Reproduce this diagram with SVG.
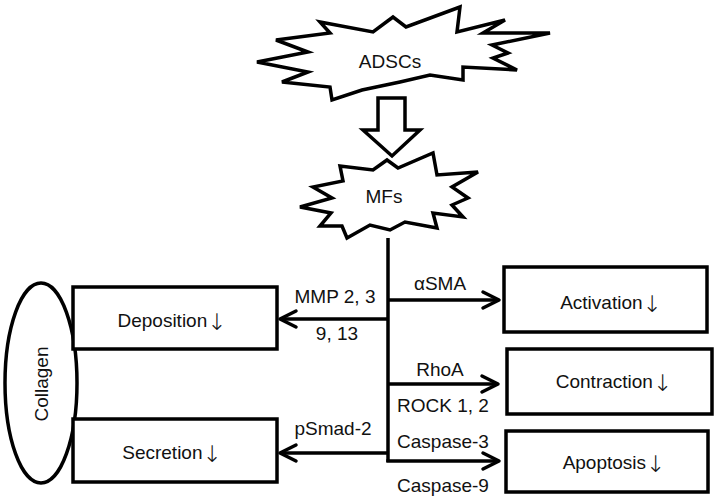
<svg xmlns="http://www.w3.org/2000/svg" width="718" height="502" viewBox="0 0 718 502">
<style>
.shape{fill:#fff;stroke:#000;stroke-width:3.5;stroke-linejoin:miter}
.box{fill:#fff;stroke:#000;stroke-width:3.5}
.t{font-family:"Liberation Sans",Arial,sans-serif;font-size:19px;fill:#111;text-anchor:middle}
.dn{font-family:"DejaVu Sans",sans-serif;font-size:23px;font-weight:200;fill:#111}
.line{fill:none;stroke:#000;stroke-width:3.5}
</style>
<defs>
<marker id="ah" markerUnits="userSpaceOnUse" markerWidth="22" markerHeight="22" viewBox="0 0 22 22" refX="19" refY="11" orient="auto">
<path d="M3,3 L19,11 L3,19" fill="none" stroke="#000" stroke-width="3.5" stroke-linejoin="round" stroke-linecap="round"/>
</marker>
</defs>
<rect width="718" height="502" fill="#fff"/>

<g id="adscs">
<polygon class="shape" points="257,62 308,52 276,40 330,33 320,22 373,32 393,17 406,27 460,7 457,32 505,20 483,33 550,33 492,45 508,53 493,58 517,70 463,67 463,80 430,75 400,82 362,90 332,100 330,87 282,82 308,72"/>
<text class="t" x="390" y="68">ADSCs</text>
</g>

<g id="block-arrow">
<polygon class="shape" points="378,98 405,98 405,130 420,130 392,156 363,130 378,130" stroke-width="3"/>
</g>

<g id="mfs">
<polygon class="shape" points="387,160 398,168 433,153 437,175 478,172 452,187 468,198 452,205 463,217 433,213 437,228 405,222 390,230 370,225 347,238 342,226 320,226 331,213 300,207 332,198 313,187 343,181 340,166 373,170"/>
<text class="t" x="384" y="203">MFs</text>
</g>

<g id="collagen">
<ellipse class="box" cx="41" cy="383" rx="36" ry="100"/>
<text class="t" transform="translate(48,384) rotate(-90)">Collagen</text>
</g>

<g id="deposition">
<rect class="box" x="73" y="287" width="204" height="62"/>
<text class="t" x="172" y="327">Deposition<tspan class="dn" dy="3">↓</tspan></text>
</g>

<g id="secretion">
<rect class="box" x="73" y="419" width="204" height="63"/>
<text class="t" x="172" y="459">Secretion<tspan class="dn" dy="3">↓</tspan></text>
</g>

<g id="activation">
<rect class="box" x="504" y="267" width="203" height="65"/>
<text class="t" x="611" y="309">Activation<tspan class="dn" dy="3">↓</tspan></text>
</g>

<g id="contraction">
<rect class="box" x="507" y="349" width="205" height="65"/>
<text class="t" x="614" y="388">Contraction<tspan class="dn" dy="3">↓</tspan></text>
</g>

<g id="apoptosis">
<rect class="box" x="506" y="431" width="202" height="61"/>
<text class="t" x="614" y="469">Apoptosis<tspan class="dn" dy="3">↓</tspan></text>
</g>

<g id="connectors">
<path class="line" d="M388,238 V462"/>
<path class="line" d="M388,300 H499" marker-end="url(#ah)"/>
<path class="line" d="M388,384 H498" marker-end="url(#ah)"/>
<path class="line" d="M386.3,461 H499" marker-end="url(#ah)"/>
<path class="line" d="M388,319 H280" marker-end="url(#ah)"/>
<path class="line" d="M388,453 H280" marker-end="url(#ah)"/>
<text class="t" x="440" y="290">αSMA</text>
<text class="t" x="335" y="303">MMP 2, 3</text>
<text class="t" x="337" y="340">9, 13</text>
<text class="t" x="440" y="376">RhoA</text>
<text class="t" x="443" y="412">ROCK 1, 2</text>
<text class="t" x="443" y="448">Caspase-3</text>
<text class="t" x="333" y="435">pSmad-2</text>
<text class="t" x="443" y="492">Caspase-9</text>
</g>
</svg>
